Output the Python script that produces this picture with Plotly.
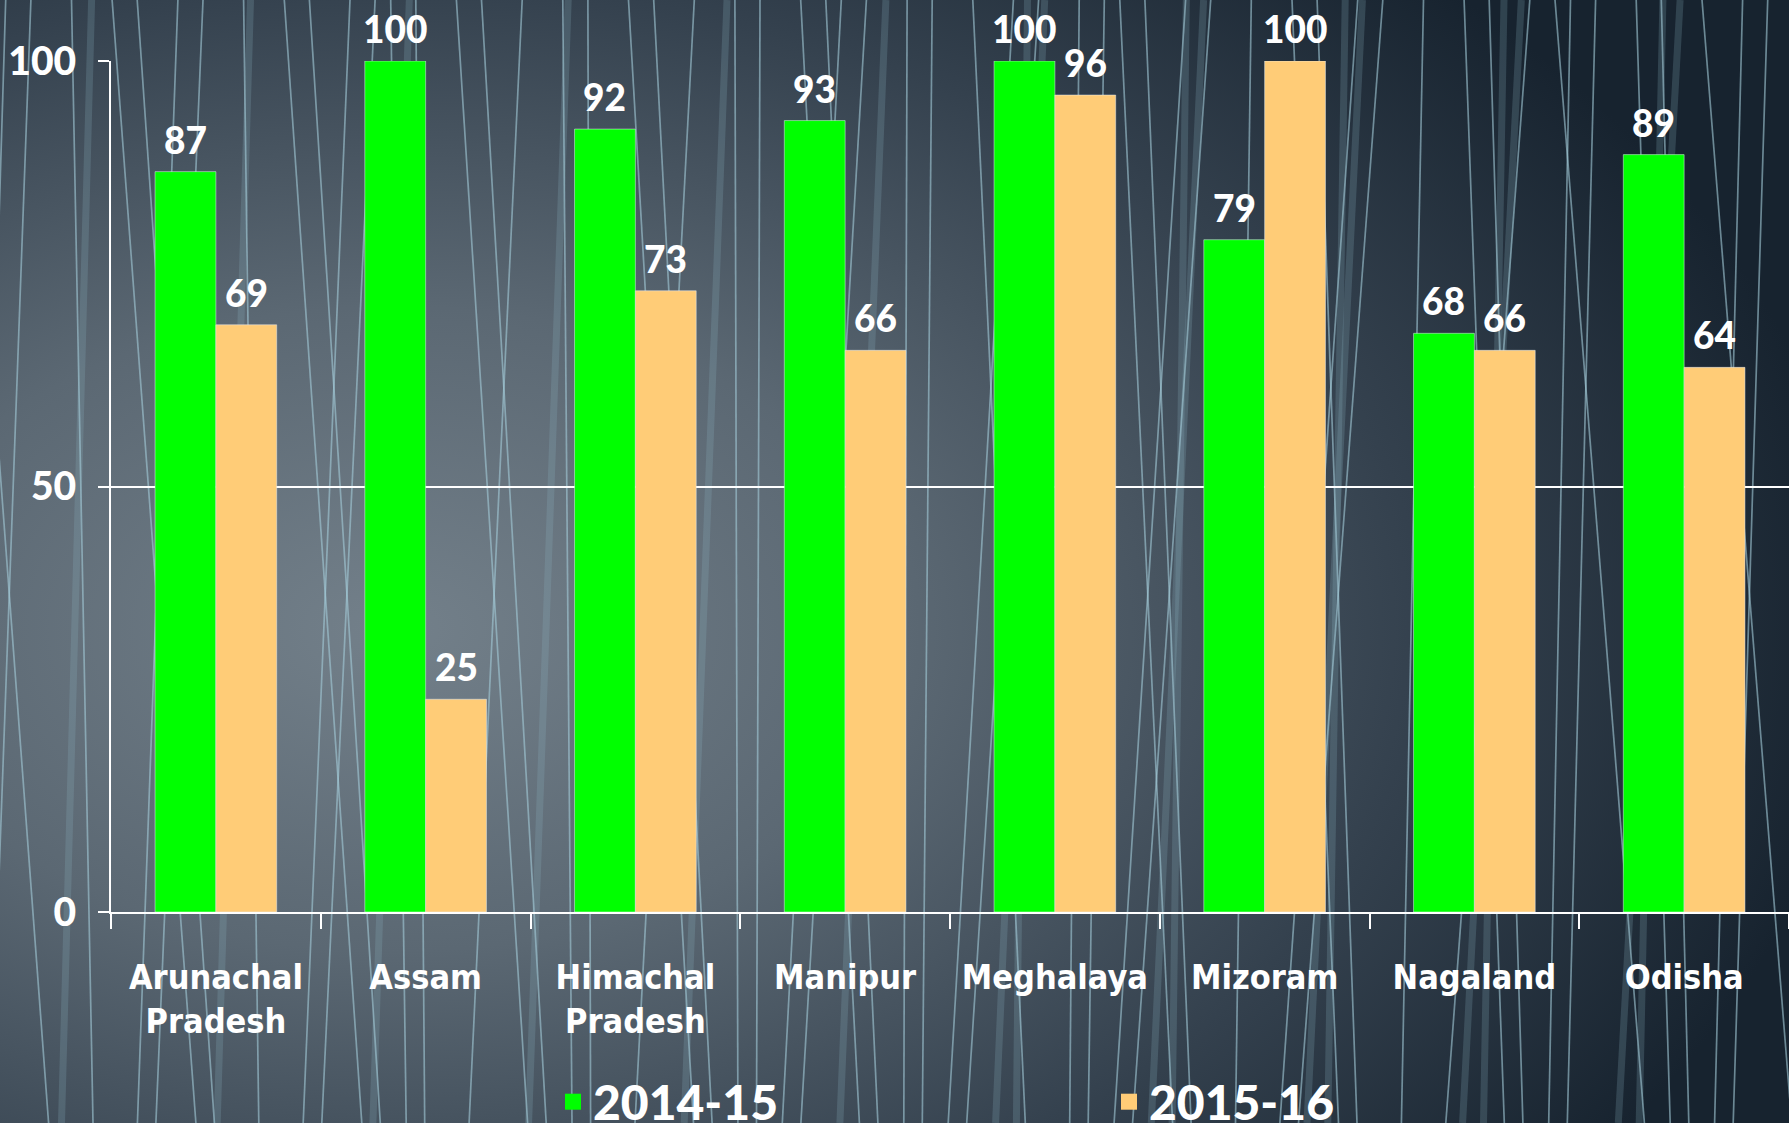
import base64

import plotly.graph_objects as go

# states and the two years
STATES = ["Arunachal<br>Pradesh", "Assam", "Himachal<br>Pradesh", "Manipur",
          "Meghalaya", "Mizoram", "Nagaland", "Odisha"]
Y_2014_15 = [87, 100, 92, 93, 100, 79, 68, 89]
Y_2015_16 = [69, 25, 73, 66, 96, 100, 66, 64]
YTICKS = [0, 50, 100]

W, H = 1789, 1123
ML, MR, MT, MB = 111, 0, 61, 211
BARGAP = 0.42

GREEN = "#00ff00"
PEACH = "#ffcc77"
NUM_FONT = "Lato, 'Open Sans', sans-serif"
CAT_FONT = "'Liberation Sans Narrow', 'DejaVu Sans Condensed', sans-serif"


def _background_svg() -> str:
    # dark slate radial backdrop with thin streaks
    parts = [
        f'<svg xmlns="http://www.w3.org/2000/svg" width="{W}" height="{H}" '
        f'viewBox="0 0 {W} {H}" preserveAspectRatio="none">',
        '<defs><radialGradient id="g" cx="0.22" cy="0.56" r="0.82">'
        '<stop offset="0" stop-color="#73808a"/>'
        '<stop offset="0.35" stop-color="#5b6873"/>'
        '<stop offset="0.7" stop-color="#34414e"/>'
        '<stop offset="1" stop-color="#17232f"/>'
        '</radialGradient></defs>',
        f'<rect width="{W}" height="{H}" fill="url(#g)"/>',
    ]
    phi = 0.6180339887
    for i in range(18):
        a = (i * phi * 3.1) % 1
        b = (i * 0.381966 * 5.3) % 1
        x0 = a * (W + 100) - 50
        x1 = x0 + (b - 0.5) * 130
        parts.append(f'<line x1="{x0:.1f}" y1="0" x2="{x1:.1f}" y2="{H}" '
                     'stroke="#8fb6c4" stroke-opacity="0.22" stroke-width="7"/>')
    for i in range(60):
        a = (i * phi) % 1
        b = (i * 0.7548776 * 3.7) % 1
        x0 = a * (W + 120) - 60
        x1 = x0 + (b - 0.5) * 180
        parts.append(f'<line x1="{x0:.1f}" y1="0" x2="{x1:.1f}" y2="{H}" '
                     'stroke="#a4ccd8" stroke-opacity="0.6" stroke-width="1.7"/>')
    parts.append("</svg>")
    return "".join(parts)


bg = "data:image/svg+xml;base64," + base64.b64encode(
    _background_svg().encode()).decode()

pw, ph = W - ML - MR, H - MT - MB

fig = go.Figure()
fig.add_bar(x=STATES, y=Y_2014_15, name="2014-15", marker_color=GREEN,
            showlegend=False)
fig.add_bar(x=STATES, y=Y_2015_16, name="2015-16", marker_color=PEACH,
            showlegend=False)
# legend keys with the larger square swatches of the original
for name, col in (("2014-15", GREEN), ("2015-16", PEACH)):
    fig.add_scatter(x=[None], y=[None], mode="markers", name=name,
                    marker=dict(symbol="square", size=26, color=col))

off = (1 - BARGAP) / 4
for i, (a, b) in enumerate(zip(Y_2014_15, Y_2015_16)):
    for xx, v in ((i - off, a), (i + off, b)):
        fig.add_annotation(x=xx, y=v, text=str(v), showarrow=False,
                           yanchor="bottom", yshift=8,
                           font=dict(family=NUM_FONT, size=37, color="white",
                                     weight=900))

fig.add_layout_image(source=bg, xref="paper", yref="paper",
                     x=-ML / pw, y=1 + MT / ph, sizex=W / pw, sizey=H / ph,
                     xanchor="left", yanchor="top", sizing="stretch",
                     layer="below")

fig.update_layout(
    width=W, height=H,
    margin=dict(l=ML, r=MR, t=MT, b=MB, autoexpand=False),
    paper_bgcolor="#2a3744", plot_bgcolor="rgba(0,0,0,0)",
    barmode="group", bargap=BARGAP, bargroupgap=0,
    showlegend=True,
    legend=dict(orientation="h", x=(553 - ML) / pw, xanchor="left",
                y=(H - MB - 1102) / ph, yanchor="middle",
                entrywidth=511, itemsizing="trace",
                bgcolor="rgba(0,0,0,0)",
                font=dict(family=NUM_FONT, size=48, color="white",
                          weight=900)),
    xaxis=dict(showline=True, linecolor="white", linewidth=2,
               ticks="outside", tickson="boundaries", ticklen=15,
               tickcolor="white", tickwidth=1.5, showgrid=False,
               tickangle=0, ticklabelstandoff=34,
               tickfont=dict(family=CAT_FONT, size=34, color="white",
                             weight="bold")),
    yaxis=dict(range=[0, 100], tickvals=YTICKS, showline=True,
               linecolor="white", linewidth=2, ticks="outside", ticklen=11,
               tickcolor="white", tickwidth=1.5, showgrid=True,
               gridcolor="white", gridwidth=1.5, zeroline=False,
               ticklabelstandoff=14,
               tickfont=dict(family=NUM_FONT, size=39, color="white",
                             weight=900)),
)

fig.write_html("out.html", config={"displayModeBar": False},
               post_script="document.body.style.margin='0';"
                           "document.body.style.background='#2a3744';")
